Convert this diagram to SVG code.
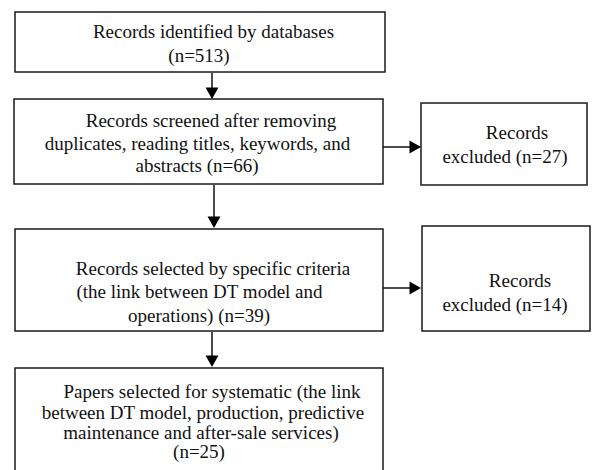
<svg xmlns="http://www.w3.org/2000/svg" width="594" height="470" viewBox="0 0 594 470">
<style>
.box{fill:#fff;stroke:#1a1a1a;stroke-width:1.5}
.t{font-family:'Liberation Serif','Times New Roman','DejaVu Serif',serif;font-size:19px;fill:#111;text-anchor:middle}
.c{stroke:#111;stroke-width:1.5;fill:none}
.h{fill:#000}
</style>
<rect width="594" height="470" fill="#fff"/>
<g id="n1">
<rect class="box" x="15" y="12" width="370" height="60"/>
<text class="t" x="213.5" y="38">Records identified by databases</text>
<text class="t" x="199" y="62">(n=513)</text>
</g>
<g id="n2">
<rect class="box" x="14" y="99" width="369" height="85"/>
<text class="t" x="211" y="127">Records screened after removing</text>
<text class="t" x="197.5" y="150">duplicates, reading titles, keywords, and</text>
<text class="t" x="197" y="172">abstracts (n=66)</text>
</g>
<g id="n3">
<rect class="box" x="421" y="103" width="166" height="82"/>
<text class="t" x="517" y="139">Records</text>
<text class="t" x="505" y="163">excluded (n=27)</text>
</g>
<g id="n4">
<rect class="box" x="15" y="229" width="368" height="102"/>
<text class="t" x="213" y="275">Records selected by specific criteria</text>
<text class="t" x="199.5" y="298">(the link between DT model and</text>
<text class="t" x="199" y="322">operations) (n=39)</text>
</g>
<g id="n5">
<rect class="box" x="422" y="226" width="168" height="105"/>
<text class="t" x="520" y="287">Records</text>
<text class="t" x="505" y="311">excluded (n=14)</text>
</g>
<g id="n6">
<rect class="box" x="15" y="368" width="368" height="106"/>
<text class="t" x="212" y="398">Papers selected for systematic (the link</text>
<text class="t" x="203" y="419">between DT model, production, predictive</text>
<text class="t" x="201" y="439">maintenance and after-sale services)</text>
<text class="t" x="199" y="458">(n=25)</text>
</g>
<g id="connectors">
<path class="c" d="M212 73V88"/>
<path class="h" d="M205.5 87.5H218.5L212 99Z"/>
<path class="c" d="M383 147H410"/>
<path class="h" d="M409.5 140.5V153.5L421 147Z"/>
<path class="c" d="M214 185V217"/>
<path class="h" d="M207.5 216.5H220.5L214 228Z"/>
<path class="c" d="M383 288H410"/>
<path class="h" d="M409.5 281.5V294.5L421 288Z"/>
<path class="c" d="M212 332V356"/>
<path class="h" d="M205.5 355.5H218.5L212 367Z"/>
</g>
</svg>
